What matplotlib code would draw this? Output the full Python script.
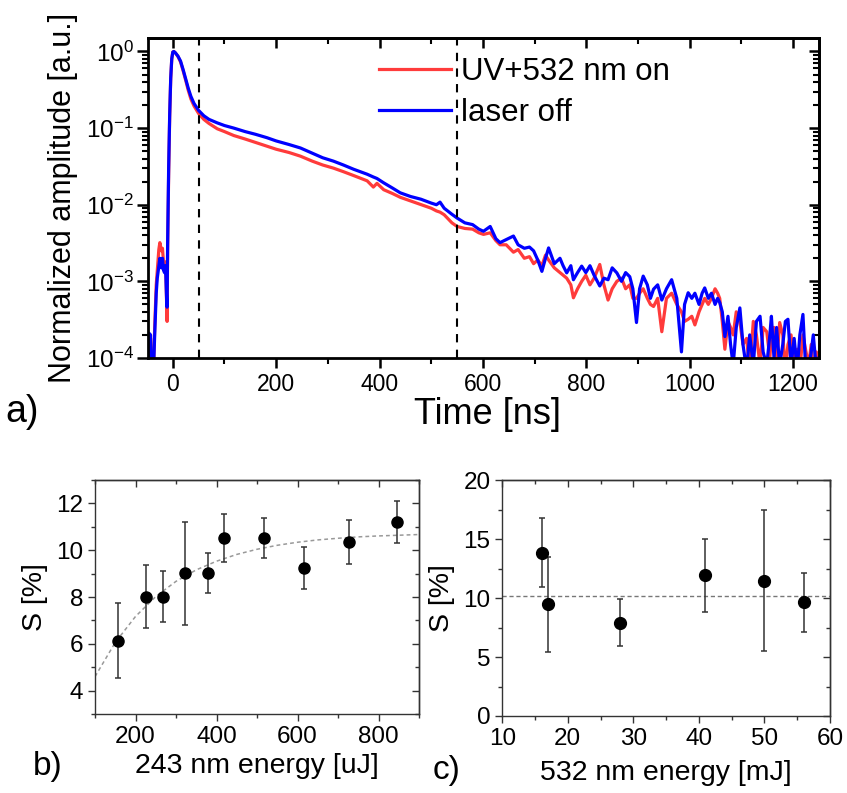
import matplotlib
matplotlib.use("Agg")
import matplotlib.pyplot as plt
from matplotlib.ticker import MultipleLocator, FixedLocator, LogLocator, NullFormatter

plt.rcParams["font.family"] = ["Liberation Sans", "DejaVu Sans"]
plt.rcParams["mathtext.fontset"] = "custom"
plt.rcParams["mathtext.rm"] = "Liberation Sans"
plt.rcParams["mathtext.it"] = "Liberation Sans"
plt.rcParams["mathtext.default"] = "regular"

# ---- panel a: normalized decay traces ----
time_ns = [-48, -46, -43, -41, -38, -35, -32, -30, -27, -25, -22, -20, -18, -16, -14, -12, -11, -10,
           -8, -6, -4, -2, 0, 2, 5, 10, 15, 20, 25, 30, 35, 41, 50, 60, 70, 86, 100, 118, 140, 160,
           182, 200, 225, 247, 270, 290, 311, 330, 350, 376, 388, 395, 408, 425, 440, 460, 480, 500,
           510, 517, 525, 540, 550, 565, 580, 592, 601, 614, 625, 633, 645, 659, 668, 680, 690, 698,
           706, 714, 721, 727, 738, 749, 755, 762, 770, 775, 783, 791, 799, 807, 815, 826, 834, 842,
           850, 859, 868, 876, 884, 890, 897, 903, 910, 918, 924, 930, 938, 946, 955, 965, 975, 984,
           990, 997, 1004, 1010, 1018, 1024, 1029, 1036, 1042, 1049, 1054, 1058, 1063, 1068, 1074,
           1079, 1084, 1090, 1097, 1103, 1110, 1116, 1123, 1129, 1136, 1142, 1149, 1155, 1158, 1163,
           1168, 1174, 1180, 1185, 1190, 1196, 1202, 1208, 1213, 1219, 1224, 1230, 1235, 1239, 1245,
           1250]

laser_on = [5e-5, 1.5e-4, 1.8e-4, 5e-5, 5e-5, 2.5e-4, 9e-4, 1.4e-3, 2.6e-3, 3.2e-3, 2.5e-3, 2.7e-3,
            1.8e-3, 1.6e-3, 1.8e-3, 5e-4, 3.0e-4, 2.5e-3,
            2.5e-2, 0.14, 0.44, 0.8, 0.98, 1.0, 0.96, 0.86, 0.73, 0.56, 0.42, 0.31, 0.24, 0.195,
            0.155, 0.13, 0.115, 0.098, 0.090, 0.080, 0.072, 0.065,
            0.058, 0.053, 0.048, 0.043, 0.037, 0.033, 0.030, 0.027, 0.024, 0.0205, 0.017, 0.019,
            0.0157, 0.0140, 0.0125, 0.0112, 0.0100, 0.0090,
            0.0083, 0.0080, 0.0074, 0.0058, 0.0052, 0.0049, 0.0048, 0.0043, 0.0041, 0.0043, 0.0034,
            0.0030, 0.0030, 0.0024, 0.0026, 0.0020, 0.0021, 0.0017,
            0.0019, 0.0016, 0.0022, 0.0019, 0.0015, 0.0013, 0.0012, 0.0011, 0.0009, 0.00061, 0.0008,
            0.0010, 0.0012, 0.0009, 0.0011, 0.00166, 0.0009, 0.00057,
            0.0008, 0.0010, 0.0011, 0.0008, 0.0009, 0.0006, 0.0006, 0.0007, 0.0008, 0.0006, 0.0005,
            0.00047, 0.0006, 0.00022, 0.0006, 0.0007, 0.0005, 0.0004,
            0.0003, 0.00032, 0.00035, 0.00027, 0.0004, 0.0005, 0.0006, 0.0005, 0.0006, 0.0008, 0.0007,
            0.0006, 0.0003, 0.00013, 0.0003,
            0.00025, 0.0002, 0.0004, 0.0003, 0.00015, 0.00018, 7e-5, 0.0003, 0.0002, 8e-5, 0.00025,
            0.00022, 0.0001, 0.0002, 0.00025,
            8e-5, 0.00029, 0.0002, 7e-5, 0.00015, 0.0002, 8e-5, 0.00013, 7e-5, 0.0002, 0.00013, 8e-5,
            0.00015, 7e-5, 0.00012,
            8e-5]

laser_off = [5e-5, 2.1e-4, 2.0e-4, 5e-5, 5e-5, 2e-4, 7e-4, 1.1e-3, 1.6e-3, 2.0e-3, 1.5e-3, 2.0e-3,
             1.4e-3, 1.3e-3, 1.6e-3, 6e-4, 4.6e-4, 3e-3,
             3e-2, 0.15, 0.45, 0.8, 0.98, 1.0, 0.96, 0.87, 0.75, 0.58, 0.44, 0.33, 0.26, 0.21,
             0.17, 0.145, 0.13, 0.117, 0.108, 0.100, 0.090, 0.083,
             0.075, 0.068, 0.061, 0.055, 0.047, 0.041, 0.037, 0.033, 0.029, 0.025, 0.023, 0.022,
             0.0193, 0.0165, 0.0143, 0.0128, 0.0118, 0.0105,
             0.0100, 0.0108, 0.0090, 0.0075, 0.0067, 0.0058, 0.0055, 0.0048, 0.0045, 0.0052, 0.0036,
             0.0032, 0.0035, 0.0039, 0.0030, 0.0027, 0.0028, 0.0025,
             0.0019, 0.00135, 0.0020, 0.00273, 0.0017, 0.0020, 0.0016, 0.00129, 0.0016, 0.00105,
             0.0013, 0.00158, 0.0013, 0.0016, 0.0012, 0.00087, 0.0011, 0.00105,
             0.0015, 0.00129, 0.0010, 0.0013, 0.00115, 0.0008, 0.00029, 0.0008, 0.00117, 0.0009,
             0.0006, 0.00079, 0.0009, 0.00057, 0.0008, 0.00105, 0.0006, 0.00012,
             0.0005, 0.00071, 0.0006, 0.0007, 0.0005, 0.0007, 0.00082, 0.0006, 0.0007, 0.0005, 0.0006,
             0.00053, 0.0004, 0.00019, 0.00035,
             0.00015, 8e-5, 0.00025, 0.00045, 0.00015, 7e-5, 0.0002, 8e-5, 0.0003, 0.00035, 0.00012,
             8e-5, 0.0002, 0.00035, 0.0001,
             0.00025, 8e-5, 0.00015, 0.0003, 0.00032, 8e-5, 0.00018, 7e-5, 0.0002, 0.00037, 8e-5, 7e-5,
             0.00012, 0.0002, 7e-5,
             0.0001]

window_ns = [50, 550]
log_ticks = [1e-4, 1e-3, 1e-2, 1e-1, 1e0]
log_labels = ["$10^{-4}$", "$10^{-3}$", "$10^{-2}$", "$10^{-1}$", "$10^{0}$"]

# ---- panel b: S vs 243 nm energy ----
uv_energy = [157, 227, 268, 323, 378, 419, 517, 616, 726, 846]
uv_s = [6.13, 8.02, 8.02, 9.02, 9.02, 10.53, 10.51, 9.24, 10.35, 11.22]
uv_err = [1.6, 1.35, 1.1, 2.2, 0.85, 1.03, 0.86, 0.9, 0.96, 0.9]
uv_fit_x = [100, 150, 200, 250, 300, 350, 400, 450, 500, 550, 600, 650, 700, 750, 800, 850, 900]
uv_fit_y = [4.60, 6.06, 7.17, 8.02, 8.67, 9.16, 9.53, 9.82, 10.04, 10.21, 10.34, 10.44, 10.51,
            10.57, 10.61, 10.64, 10.67]

# ---- panel c: S vs 532 nm energy ----
green_energy = [16, 17, 28, 41, 50, 56]
green_s = [13.84, 9.46, 7.91, 11.93, 11.47, 9.66]
green_err = [2.9, 4.0, 2.0, 3.1, 6.0, 2.5]
green_mean = 10.15

fig = plt.figure(figsize=(8.47, 7.93), dpi=100)

# ---------- panel a ----------
ax = fig.add_axes([0.1747, 0.5486, 0.7922, 0.4035])
ax.plot(time_ns, laser_on, color="#ff3b3b", lw=2.3, label="UV+532 nm on")
ax.plot(time_ns, laser_off, color="#0000ff", lw=2.3, label="laser off")
for t in window_ns:
    ax.axvline(t, color="black", lw=1.5, ls=(0, (4, 3.5)))
ax.set_yscale("log")
ax.set_xlim(-48, 1250)
ax.set_ylim(1e-4, 1.5)
ax.xaxis.set_major_locator(MultipleLocator(200))
ax.xaxis.set_minor_locator(MultipleLocator(100))
ax.set_yticks(log_ticks, log_labels, fontsize=17.5)
ax.yaxis.set_minor_locator(LogLocator(base=10, subs=range(2, 10)))
ax.yaxis.set_minor_formatter(NullFormatter())
ax.tick_params(axis="x", which="major", labelsize=16.5, length=7, width=1.8, direction="out")
ax.tick_params(axis="y", which="major", length=8, width=1.8, direction="out", pad=2)
ax.tick_params(which="minor", length=4, width=1.5, direction="out")
for s in ax.spines.values():
    s.set_linewidth(2)
ax.set_ylabel("Normalized amplitude [a.u.]", fontsize=22, labelpad=6)

top = ax.secondary_xaxis("top")
top.xaxis.set_major_locator(MultipleLocator(200))
top.xaxis.set_minor_locator(MultipleLocator(100))
top.tick_params(which="major", direction="in", length=7, width=1.8, labeltop=False)
top.tick_params(which="minor", direction="in", length=4, width=1.5)
top.spines["top"].set_linewidth(2)
right = ax.secondary_yaxis("right")
right.yaxis.set_major_locator(FixedLocator(log_ticks))
right.yaxis.set_minor_locator(LogLocator(base=10, subs=range(2, 10)))
right.tick_params(which="major", direction="in", length=7, width=1.8, labelright=False)
right.tick_params(which="minor", direction="in", length=4, width=1.5, labelright=False)
right.spines["right"].set_linewidth(2)

ax.legend(loc="upper left", bbox_to_anchor=(0.345, 0.94), frameon=False, fontsize=22.5,
          handlelength=2.3, handletextpad=0.3, labelspacing=0.35, borderpad=0, borderaxespad=0)

fig.text(0.576, 0.477, "Time [ns]", fontsize=26, ha="center", va="center")
fig.text(0.006, 0.48, "a)", fontsize=27, ha="left", va="center")


def style_small(a, xmajor, xminor, ymajor, yminor):
    a.xaxis.set_major_locator(MultipleLocator(xmajor))
    a.xaxis.set_minor_locator(MultipleLocator(xminor))
    a.yaxis.set_major_locator(MultipleLocator(ymajor))
    a.yaxis.set_minor_locator(MultipleLocator(yminor))
    a.tick_params(which="major", labelsize=17.5, length=5, width=1, direction="out", color="#333333")
    a.tick_params(which="minor", length=3, width=1, direction="out", color="#333333")
    for s in a.spines.values():
        s.set_linewidth(1)
        s.set_color("#333333")
    t = a.secondary_xaxis("top")
    t.xaxis.set_major_locator(MultipleLocator(xmajor))
    t.xaxis.set_minor_locator(MultipleLocator(xminor))
    t.tick_params(which="major", direction="in", length=5, width=1, labeltop=False, color="#333333")
    t.tick_params(which="minor", direction="in", length=3, width=1, color="#333333")
    t.spines["top"].set_linewidth(1)
    t.spines["top"].set_color("#333333")
    r = a.secondary_yaxis("right")
    r.yaxis.set_major_locator(MultipleLocator(ymajor))
    r.yaxis.set_minor_locator(MultipleLocator(yminor))
    r.tick_params(which="major", direction="in", length=5, width=1, labelright=False, color="#333333")
    r.tick_params(which="minor", direction="in", length=3, width=1, color="#333333")
    r.spines["right"].set_linewidth(1)
    r.spines["right"].set_color("#333333")


# ---------- panel b ----------
axb = fig.add_axes([0.1122, 0.0996, 0.3825, 0.2951])
axb.plot(uv_fit_x, uv_fit_y, color="#999999", lw=1.1, ls=(0, (2.5, 2)))
axb.errorbar(uv_energy, uv_s, yerr=uv_err, fmt="o", color="black", ms=8,
             ecolor="#333333", elinewidth=1.1, capsize=2.5, capthick=1.1)
axb.set_xlim(100, 900)
axb.set_ylim(3, 13)
style_small(axb, 200, 100, 2, 1)
axb.set_xlabel("243 nm energy [uJ]", fontsize=20.5, labelpad=4)
axb.set_ylabel("S [%]", fontsize=20.5, labelpad=6)
fig.text(0.039, 0.034, "b)", fontsize=24, ha="left", va="center")

# ---------- panel c ----------
axc = fig.add_axes([0.593, 0.0971, 0.3869, 0.2976])
axc.axhline(green_mean, color="#777777", lw=1, ls=(0, (3, 2)))
axc.errorbar(green_energy, green_s, yerr=green_err, fmt="o", color="black", ms=8.5,
             ecolor="#333333", elinewidth=1.1, capsize=2.5, capthick=1.1)
axc.set_xlim(10, 60)
axc.set_ylim(0, 20)
style_small(axc, 10, 5, 5, 2.5)
axc.set_xlabel("532 nm energy [mJ]", fontsize=20.5, labelpad=7)
axc.set_ylabel("S [%]", fontsize=20.5, labelpad=6)
fig.text(0.511, 0.029, "c)", fontsize=24, ha="left", va="center")

fig.savefig("out.png", dpi=100)
